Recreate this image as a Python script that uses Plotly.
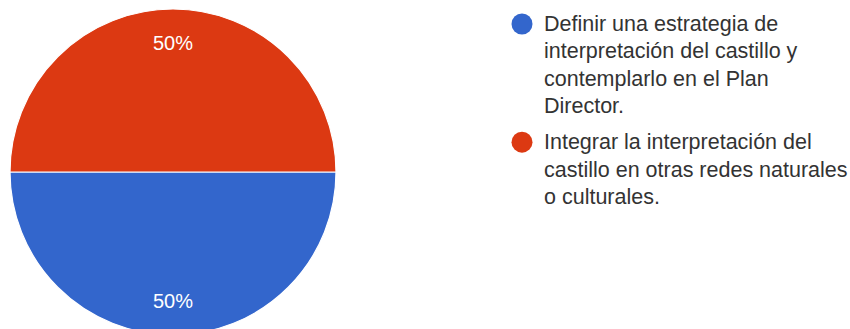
import math
import plotly.graph_objects as go

# Survey answers and their shares
labels = [
    "Definir una estrategia de<br>interpretación del castillo y<br>contemplarlo en el Plan<br>Director.",
    "Integrar la interpretación del<br>castillo en otras redes naturales<br>o culturales.",
]
values = [50, 50]
colors = ["#3366cc", "#dc3912"]

W, H = 850, 344
FONT = "Liberation Sans, Arial, sans-serif"

# pie geometry in pixels
cx, cy, r = 173, 172, 163


def px(x):
    return x / W


def py(y):
    return 1 - y / H


fig = go.Figure(
    go.Pie(
        labels=[l.replace("<br>", " ") for l in labels],
        values=values,
        marker=dict(colors=colors, line=dict(color="white", width=1.2)),
        sort=False,
        direction="clockwise",
        rotation=90,
        textinfo="none",
        hoverinfo="label+percent",
        showlegend=False,
        domain=dict(x=[px(cx - r), px(cx + r)], y=[py(cy + r), py(cy - r)]),
    )
)

# percentage labels placed along each slice's bisector
total = sum(values)
annotations = []
shapes = []
start = 0.0
for v in values:
    frac = v / total
    mid = (start + frac / 2) * 2 * math.pi  # clockwise from 3 o'clock
    lx = cx + 0.79 * r * math.cos(mid)
    ly = cy + 0.79 * r * math.sin(mid)
    annotations.append(
        dict(
            x=px(lx), y=py(ly), xref="paper", yref="paper",
            text=f"{round(frac * 100)}%", showarrow=False,
            xanchor="center", yanchor="middle",
            font=dict(family=FONT, size=20, color="white"),
        )
    )
    start += frac

# hand-drawn legend with wrapped entries
line_h = 27.3
item_gap = 9
y_line = 24
text_x = 542
dot_cx, dot_d = 522, 21
for lab, col in zip(labels, colors):
    lines = lab.split("<br>")
    shapes.append(
        dict(
            type="circle", xref="paper", yref="paper",
            x0=px(dot_cx - dot_d / 2), x1=px(dot_cx + dot_d / 2),
            y0=py(y_line + dot_d / 2), y1=py(y_line - dot_d / 2),
            fillcolor=col, line=dict(width=0),
        )
    )
    for ln in lines:
        annotations.append(
            dict(
                x=px(text_x), y=py(y_line), xref="paper", yref="paper",
                text=ln, showarrow=False, xanchor="left", yanchor="middle",
                font=dict(family=FONT, size=21.5, color="#333333"),
            )
        )
        y_line += line_h
    y_line += item_gap

fig.update_layout(
    width=W,
    height=H,
    margin=dict(l=0, r=0, t=0, b=0),
    paper_bgcolor="white",
    plot_bgcolor="white",
    annotations=annotations,
    shapes=shapes,
)

fig.write_html(
    "out.html",
    post_script="document.documentElement.style.overflow='hidden';document.body.style.overflow='hidden';document.body.style.margin='0';",
)
